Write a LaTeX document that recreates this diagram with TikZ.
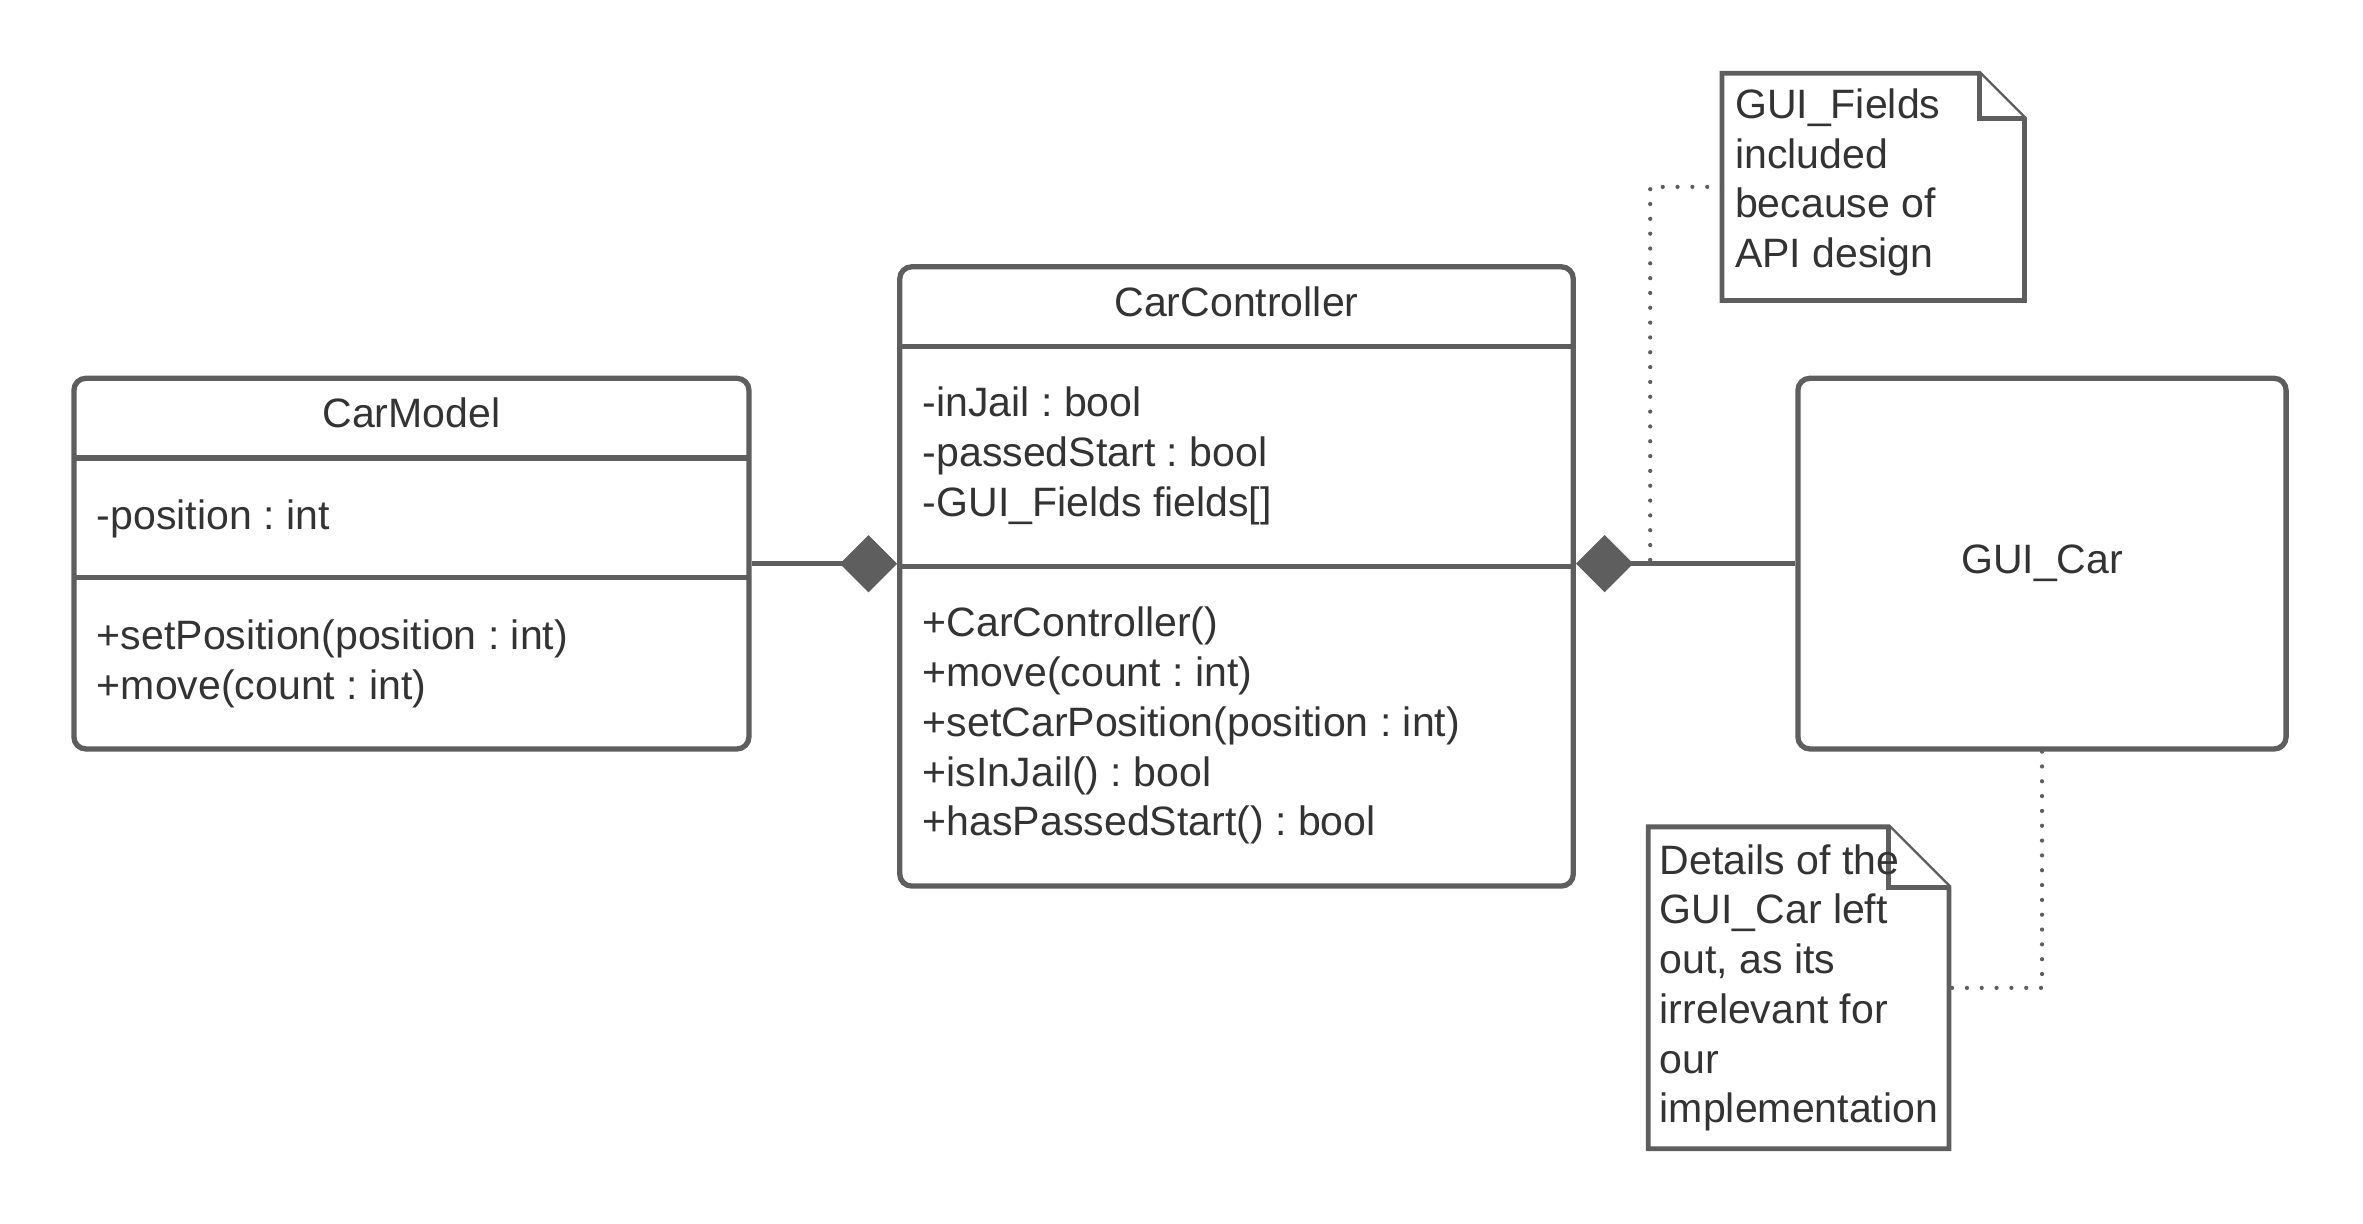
\documentclass[tikz,border=0pt]{standalone}
\usepackage{fontspec}
\setmainfont{Liberation Sans}
\usetikzlibrary{arrows.meta,positioning}
\definecolor{umlline}{HTML}{5E5E5E}
\definecolor{umltext}{HTML}{333333}
\frenchspacing
\tikzset{
	classbox/.style={draw=umlline,line width=2pt,rounded corners=4.5pt,inner sep=0pt,text=umltext},
	part/.style={draw=umlline,line width=2pt},
	title/.style={text=umltext,inner sep=0pt},
	member/.style={anchor=west,align=left,text=umltext,inner sep=0pt},
	notebox/.style={inner sep=0pt},
	notedraw/.style={draw=umlline,line width=1.8pt,fill=white,line join=miter},
	compose/.style={draw=umlline,line width=1.8pt,-{Diamond[length=0.76cm,width=0.76cm]}},
	notelink/.style={draw=umlline,line width=1.6pt,line cap=round,dash pattern=on 0pt off 5.6pt},
}
\begin{document}
\begin{tikzpicture}[x=0.02cm,y=-0.02cm,font=\fontsize{15.5}{18.8}\selectfont]
	\useasboundingbox (0,0) rectangle (1568,812);
	% classes
	\node[classbox,minimum width=8.96cm,minimum height=4.92cm] (model) at (273,374) {};
	\node[classbox,minimum width=8.94cm,minimum height=8.22cm] (ctrl) at (820.5,382.5) {};
	\node[classbox,minimum width=6.48cm,minimum height=4.92cm] (gui) at (1355,374) {GUI\_Car};
	\draw[part] (49,304) -- (497,304);
	\draw[part] (49,383) -- (497,383);
	\draw[part] (597,230) -- (1044,230);
	\draw[part] (597,376) -- (1044,376);
	\node[title] (modelname) at (273,274) {CarModel};
	\node[title] (ctrlname) at (820.5,200) {CarController};
	\node[member] (modelattr) at (64,344) {-position : int};
	\node[member] (modelops) at (64,440.5) {+setPosition(position : int)\\+move(count : int)};
	\node[member] (ctrlattr) at (612,302.5) {-inJail : bool\\-passedStart : bool\\-GUI\_Fields fields[]};
	\node[member] (ctrlops) at (612,481.5) {+CarController()\\+move(count : int)\\+setCarPosition(position : int)\\+isInJail() : bool\\+hasPassedStart() : bool};
	% composition
	\draw[compose] (model.east) -- (model.east -| ctrl.west);
	\draw[compose] (gui.west) -- (gui.west -| ctrl.east);
	% notes
	\node[notebox,minimum width=4cm,minimum height=3cm] (note1) at (1243,124) {};
	\node[notebox,minimum width=3.98cm,minimum height=4.26cm] (note2) at (1193.5,655.5) {};
	\draw[notedraw] (note1.north west) -- ([xshift=-0.6cm]note1.north east) -- ([yshift=-0.6cm]note1.north east) -- (note1.south east) -- (note1.south west) -- cycle;
	\draw[notedraw] ([xshift=-0.6cm]note1.north east) |- ([yshift=-0.6cm]note1.north east);
	\draw[notedraw] (note2.north west) -- ([xshift=-0.8cm]note2.north east) -- ([yshift=-0.8cm]note2.north east) -- (note2.south east) -- (note2.south west) -- cycle;
	\draw[notedraw] ([xshift=-0.8cm]note2.north east) |- ([yshift=-0.8cm]note2.north east);
	\node[member] (note1txt) at (1151,121) {GUI\_Fields\\included\\because of\\API design};
	\node[member] (note2txt) at (1101,655.5) {Details of the\\GUI\_Car left\\out, as its\\irrelevant for\\our\\implementation};
	\coordinate (tie) at (1095,375);
	\draw[notelink] (note1.west) -| (tie);
	\draw[notelink] (gui.south) |- (note2.east);
\end{tikzpicture}
\end{document}
